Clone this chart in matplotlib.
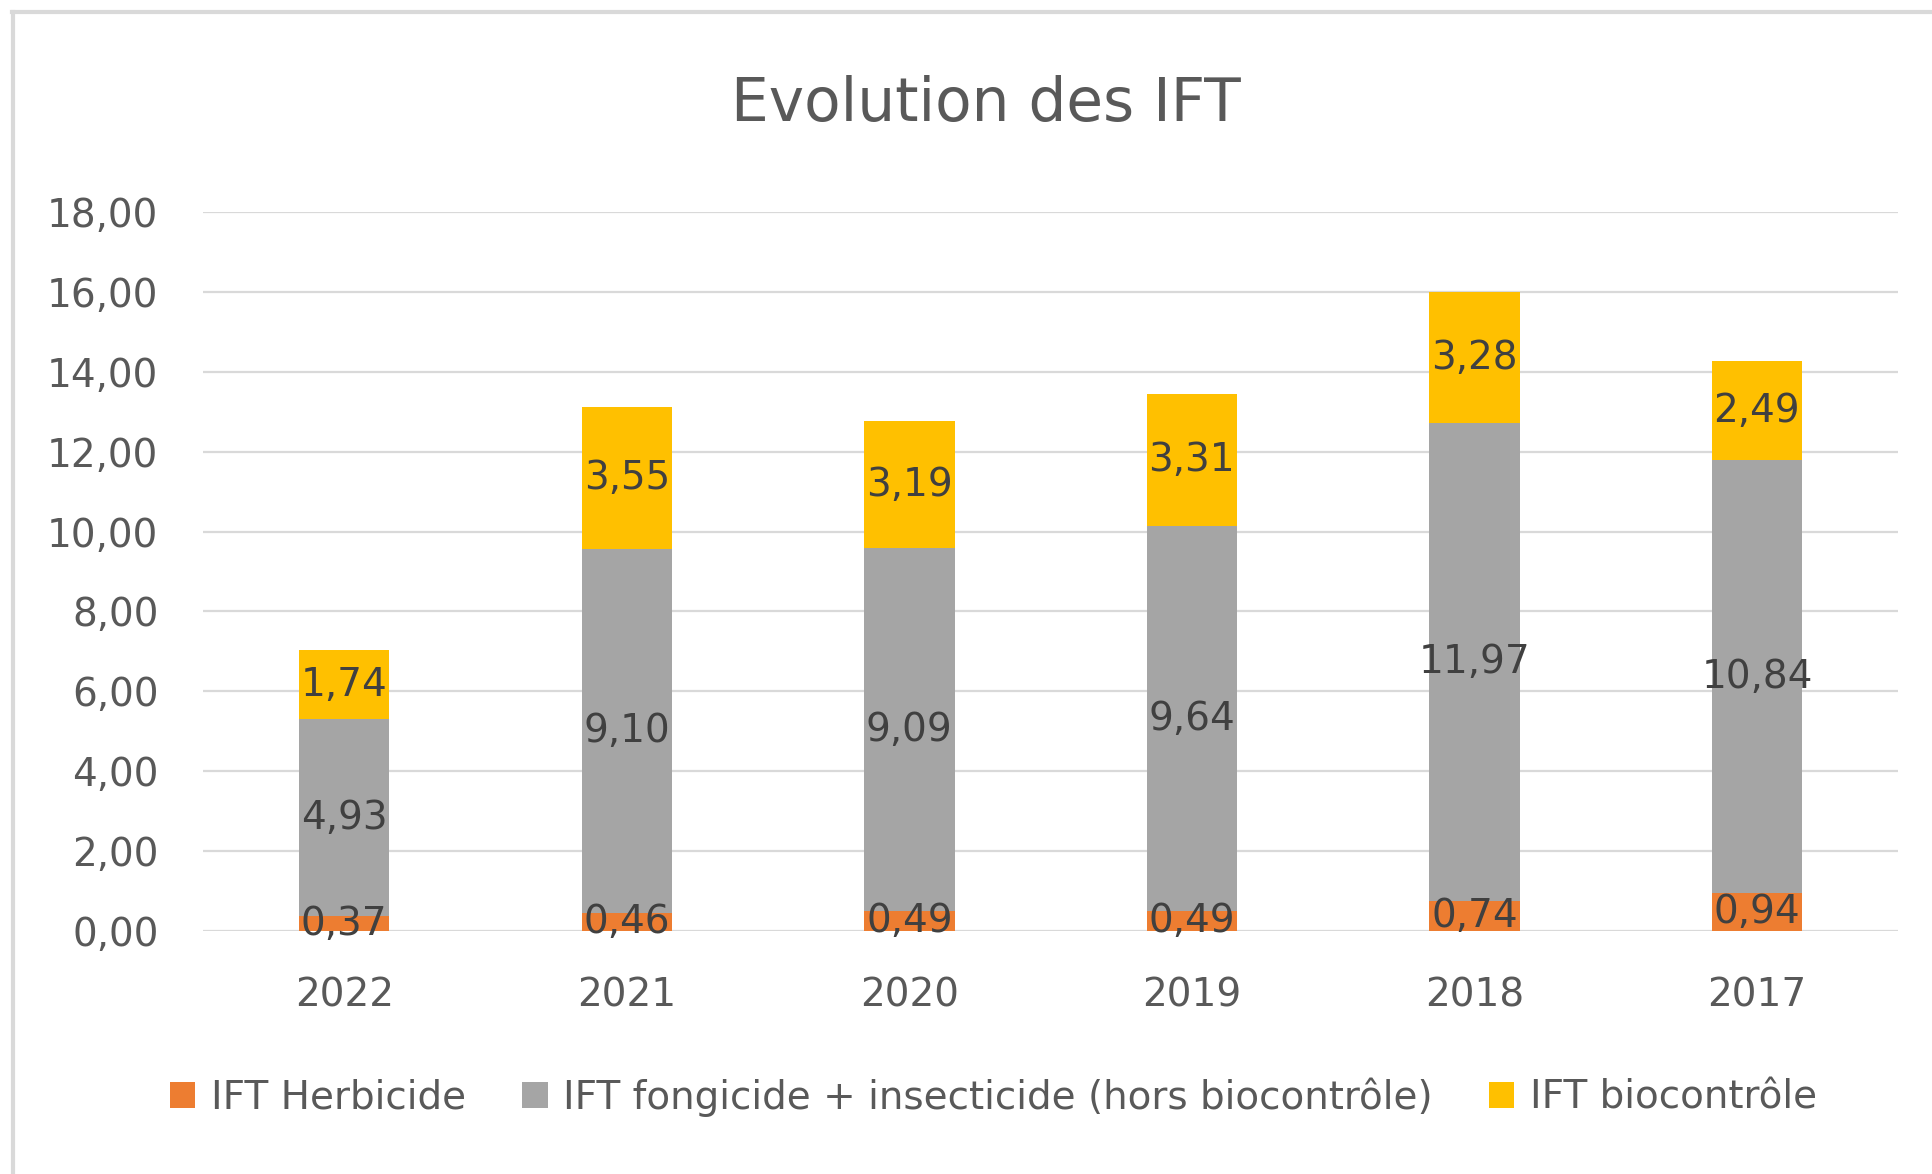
import matplotlib

matplotlib.use("Agg")

import matplotlib.pyplot as plt
from matplotlib.lines import Line2D
from matplotlib.patches import Patch
import numpy as np

YEARS = ["2022", "2021", "2020", "2019", "2018", "2017"]
HERBICIDE = [0.37, 0.46, 0.49, 0.49, 0.74, 0.94]
FONGICIDE = [4.93, 9.10, 9.09, 9.64, 11.97, 10.84]
BIOCONTROLE = [1.74, 3.55, 3.19, 3.31, 3.28, 2.49]
SERIES_NAMES = [
    "IFT Herbicide",
    "IFT fongicide + insecticide (hors biocontrôle)",
    "IFT biocontrôle",
]
Y_TICKS = [0, 2, 4, 6, 8, 10, 12, 14, 16, 18]

COLORS = ["#ED7D31", "#A5A5A5", "#FFC000"]
TEXT_COLOR = "#595959"
LABEL_COLOR = "#404040"
GRID_COLOR = "#D9D9D9"


def fr_number(v):
    return f"{v:.2f}".replace(".", ",")


def main():
    plt.rcParams["font.family"] = ["DejaVu Sans"]

    fig = plt.figure(figsize=(19.33, 11.74), dpi=100)
    ax = fig.add_axes([0.105, 0.207, 0.877, 0.6124])

    x = np.arange(len(YEARS))
    width = 0.32
    bottom = np.zeros(len(YEARS))
    for values, name, color in zip([HERBICIDE, FONGICIDE, BIOCONTROLE], SERIES_NAMES, COLORS):
        bars = ax.bar(x, values, width, bottom=bottom, color=color, label=name, zorder=3)
        ax.bar_label(
            bars,
            labels=[fr_number(v) for v in values],
            label_type="center",
            fontsize=28,
            color=LABEL_COLOR,
            zorder=4,
        )
        bottom += np.array(values)

    ax.set_xlim(-0.5, len(YEARS) - 0.5)
    ax.set_ylim(0, 18)
    ax.set_yticks(Y_TICKS)
    ax.set_yticklabels([fr_number(v) for v in Y_TICKS])
    ax.set_xticks(x)
    ax.set_xticklabels(YEARS)
    ax.tick_params(axis="y", length=0, pad=32, labelsize=28, labelcolor=TEXT_COLOR)
    ax.tick_params(axis="x", length=0, pad=33, labelsize=28, labelcolor=TEXT_COLOR)
    ax.grid(axis="y", color=GRID_COLOR, linewidth=1.6, zorder=0)
    ax.set_axisbelow(True)
    for spine in ax.spines.values():
        spine.set_visible(False)

    fig.text(0.51, 0.9106, "Evolution des IFT", ha="center", va="center",
             fontsize=43, color=TEXT_COLOR)

    handles = [Patch(facecolor=c, edgecolor="none") for c in COLORS]
    fig.legend(
        handles,
        SERIES_NAMES,
        loc="center",
        bbox_to_anchor=(0.514, 0.0656),
        ncol=3,
        frameon=False,
        fontsize=28,
        labelcolor=TEXT_COLOR,
        handlelength=0.65,
        handleheight=0.65,
        handletextpad=0.4,
        columnspacing=1.45,
    )

    # light frame around the chart area (only top and left visible)
    fig.add_artist(Line2D([12 / 1933, 1], [1 - 12 / 1174, 1 - 12 / 1174],
                          transform=fig.transFigure, color=GRID_COLOR, linewidth=3))
    fig.add_artist(Line2D([13 / 1933, 13 / 1933], [0, 1 - 12 / 1174],
                          transform=fig.transFigure, color=GRID_COLOR, linewidth=3))

    fig.savefig("out.png", dpi=100, facecolor="white")
    plt.close(fig)


if __name__ == "__main__":
    main()
